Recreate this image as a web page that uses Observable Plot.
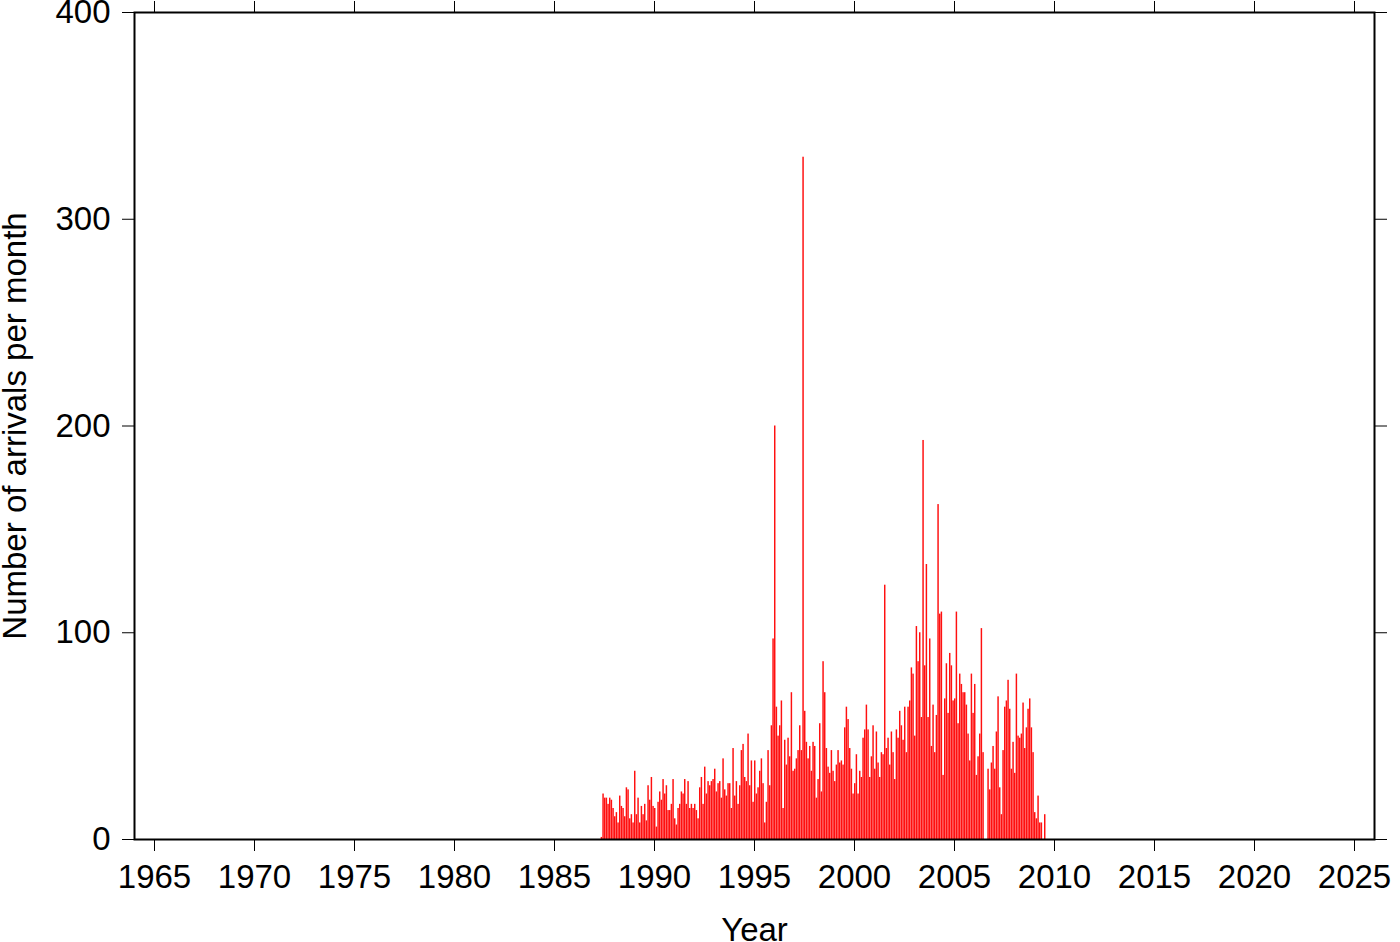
<!DOCTYPE html>
<html>
<head>
<meta charset="utf-8">
<script src="https://cdn.jsdelivr.net/npm/d3@7"></script>
<script src="https://cdn.jsdelivr.net/npm/@observablehq/plot@0.6"></script>
<style>
  html, body { margin: 0; padding: 0; background: white; }
</style>
</head>
<body>
<div id="chart"></div>
<script>
// First month of the series (year, month 1-12)
const firstYear = 1987;
const firstMonth = 5;

// Monthly arrival counts (May 1987 – Jul 2009)
const counts = [
  1, 22, 20, 20, 17, 20, 19, 15, 11, 13, 8, 21, 16, 15, 11, 25, 24, 10, 12, 8,
  33, 12, 20, 8, 16, 12, 17, 9, 26, 19, 30, 16, 15, 6, 18, 23, 19, 29, 22, 26,
  14, 14, 17, 29, 10, 7, 15, 17, 23, 22, 29, 17, 28, 15, 17, 15, 17, 14, 10, 25,
  30, 17, 35, 22, 28, 26, 28, 29, 34, 23, 27, 28, 20, 39, 24, 21, 27, 27, 15, 44,
  21, 28, 17, 26, 43, 46, 30, 28, 51, 26, 38, 18, 38, 22, 25, 33, 39, 27, 8, 18,
  43, 26, 55, 97, 200, 64, 50, 55, 67, 15, 48, 36, 49, 40, 71, 33, 34, 39, 43, 55,
  43, 330, 62, 47, 39, 45, 33, 47, 45, 20, 29, 56, 23, 86, 71, 44, 35, 32, 43, 33,
  28, 36, 43, 37, 38, 36, 54, 64, 58, 44, 34, 22, 27, 41, 22, 33, 30, 49, 53, 65,
  53, 30, 40, 55, 34, 52, 37, 30, 42, 41, 123, 44, 49, 36, 52, 42, 29, 53, 49, 62,
  55, 48, 64, 42, 64, 67, 83, 80, 50, 103, 86, 100, 59, 193, 84, 133, 59, 97, 45, 65,
  42, 60, 162, 109, 110, 31, 68, 85, 61, 90, 84, 67, 68, 110, 56, 80, 75, 71, 71, 65,
  51, 38, 80, 61, 75, 31, 40, 51, 102, 42, 0, 0, 34, 24, 37, 45, 34, 52, 69, 25,
  12, 43, 64, 67, 77, 63, 34, 47, 32, 80, 50, 49, 51, 66, 44, 54, 63, 68, 54, 42,
  13, 10, 21, 8, 8, 0, 12
];

// Axis ticks
const xTicks = [1965, 1970, 1975, 1980, 1985, 1990, 1995, 2000, 2005, 2010, 2015, 2020, 2025];
const yTicks = [0, 100, 200, 300, 400];
const xDomain = [1964, 2026];
const yDomain = [0, 400];
const xLabel = "Year";
const yLabel = "Number of arrivals per month";

const data = counts.map((c, i) => {
  const start = firstYear + (firstMonth - 1 + i) / 12;
  return {start, end: start + 1 / 12, count: c};
});

const chart = Plot.plot({
  width: 1400,
  height: 942,
  marginLeft: 134,
  marginRight: 26,
  marginTop: 12,
  marginBottom: 103,
  x: {domain: xDomain},
  y: {domain: yDomain},
  style: {
    fontFamily: "'Liberation Sans', Arial, Helvetica, sans-serif",
    fontSize: "33px",
    background: "white",
    color: "black"
  },
  marks: [
    Plot.rectY(data, {x1: "start", x2: "end", y: "count", fill: "#ff1010", insetRight: 0.2}),
    Plot.axisX({ticks: xTicks, tickFormat: "d", tickSize: 12, tickPadding: 13, label: null, fontSize: 33}),
    Plot.axisX({anchor: "top", ticks: xTicks, tickFormat: () => "", tickSize: 12, label: null}),
    Plot.axisY({ticks: yTicks, tickFormat: "d", tickSize: 12, tickPadding: 12, label: null, fontSize: 33}),
    Plot.axisY({anchor: "right", ticks: yTicks, tickFormat: () => "", tickSize: 12, label: null}),
    Plot.frame({stroke: "black", strokeWidth: 2}),
    Plot.text([yLabel], {frameAnchor: "left", textAnchor: "middle", lineAnchor: "middle", text: d => d, rotate: -90, dx: -119, fontSize: 33}),
    Plot.text([xLabel], {frameAnchor: "bottom", textAnchor: "middle", lineAnchor: "middle", text: d => d, dy: 91, fontSize: 33})
  ]
});

document.getElementById("chart").appendChild(chart);
</script>
</body>
</html>
